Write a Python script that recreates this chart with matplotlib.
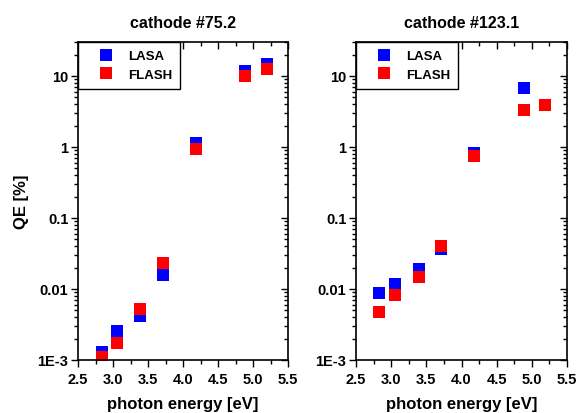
import matplotlib
matplotlib.use("Agg")
import matplotlib.pyplot as plt
from matplotlib.ticker import FixedLocator, FixedFormatter, MultipleLocator, LogLocator, NullFormatter

plt.rcParams['font.family'] = ['Liberation Sans', 'DejaVu Sans']
plt.rcParams['font.weight'] = 'bold'

# ---- data ----
titles = ["cathode #75.2", "cathode #123.1"]

e_lasa_752 = [2.84, 3.06, 3.39, 3.72, 4.18, 4.89, 5.20]
qe_lasa_752 = [1.31e-3, 2.54e-3, 4.2e-3, 0.0157, 1.13, 11.6, 14.8]
e_flash_752 = [2.84, 3.06, 3.39, 3.72, 4.18, 4.89, 5.20]
qe_flash_752 = [1.09e-3, 1.72e-3, 5.3e-3, 0.023, 0.94, 10.1, 12.6]

e_lasa_1231 = [2.83, 3.06, 3.39, 3.71, 4.18, 4.89]
qe_lasa_1231 = [0.0087, 0.0116, 0.019, 0.0366, 0.82, 6.7]
e_flash_1231 = [2.83, 3.06, 3.39, 3.71, 4.18, 4.89, 5.19]
qe_flash_1231 = [4.7e-3, 8.1e-3, 0.0146, 0.040, 0.75, 3.29, 3.86]

ytick_vals = [1e-3, 1e-2, 1e-1, 1, 10]
ytick_labels = ["1E-3", "0.01", "0.1", "1", "10"]

panels = [
    (e_lasa_752, qe_lasa_752, e_flash_752, qe_flash_752),
    (e_lasa_1231, qe_lasa_1231, e_flash_1231, qe_flash_1231),
]

fig = plt.figure(figsize=(5.77, 4.14), dpi=100)
W, H = 577, 414
boxes = [(78, 43, 288, 361), (356, 43, 567, 361)]

for i, (box, (xl, yl, xf, yf)) in enumerate(zip(boxes, panels)):
    x0, y0, x1, y1 = box
    ax = fig.add_axes([x0 / W, 1 - y1 / H, (x1 - x0) / W, (y1 - y0) / H])
    ax.plot(xl, yl, 's', color='#0000ff', ms=9, mew=0, label='LASA')
    ax.plot(xf, yf, 's', color='#ff0000', ms=9, mew=0, label='FLASH')
    ax.set_yscale('log')
    ax.set_xlim(2.5, 5.5)
    ax.set_ylim(1e-3, 30)
    ax.xaxis.set_major_locator(MultipleLocator(0.5))
    ax.xaxis.set_minor_locator(MultipleLocator(0.25))
    ax.xaxis.set_major_formatter(matplotlib.ticker.FormatStrFormatter('%.1f'))
    ax.yaxis.set_major_locator(FixedLocator(ytick_vals))
    ax.yaxis.set_major_formatter(FixedFormatter(ytick_labels))
    ax.yaxis.set_minor_locator(LogLocator(base=10, subs=range(2, 10)))
    ax.yaxis.set_minor_formatter(NullFormatter())
    for s in ax.spines.values():
        s.set_linewidth(1.2)
    ax.tick_params(which='both', top=True, right=True, width=1.0)
    ax.tick_params(axis='x', which='major', length=5, labelsize=10.5, pad=4)
    ax.tick_params(axis='x', which='minor', length=3)
    ax.tick_params(axis='y', which='major', length=5, labelsize=10.5, pad=2)
    ax.tick_params(axis='y', which='minor', length=3)
    # left/bottom ticks point out, top/right point in
    for t in ax.xaxis.get_major_ticks() + ax.xaxis.get_minor_ticks():
        t.tick1line.set_marker(matplotlib.lines.TICKDOWN)
        t.tick2line.set_marker(matplotlib.lines.TICKDOWN)
    for t in ax.yaxis.get_major_ticks() + ax.yaxis.get_minor_ticks():
        t.tick1line.set_marker(matplotlib.lines.TICKLEFT)
        t.tick2line.set_marker(matplotlib.lines.TICKLEFT)
    for lab in ax.get_xticklabels() + ax.get_yticklabels():
        lab.set_fontweight('bold')
    ax.set_title(titles[i], fontsize=11.5, fontweight='bold', pad=11)
    ax.set_xlabel('photon energy [eV]', fontsize=12, fontweight='bold', labelpad=7)
    if i == 0:
        ax.set_ylabel('QE [%]', fontsize=12, fontweight='bold', labelpad=6)
    leg = ax.legend(loc='upper left', borderaxespad=0, fancybox=False,
                    edgecolor='black', framealpha=1, prop={'weight': 'bold', 'size': 9.5},
                    handletextpad=0.1, borderpad=0.6, labelspacing=0.5,
                    handlelength=3.1)
    leg.get_frame().set_linewidth(1.0)

fig.savefig('out.png', dpi=100)
